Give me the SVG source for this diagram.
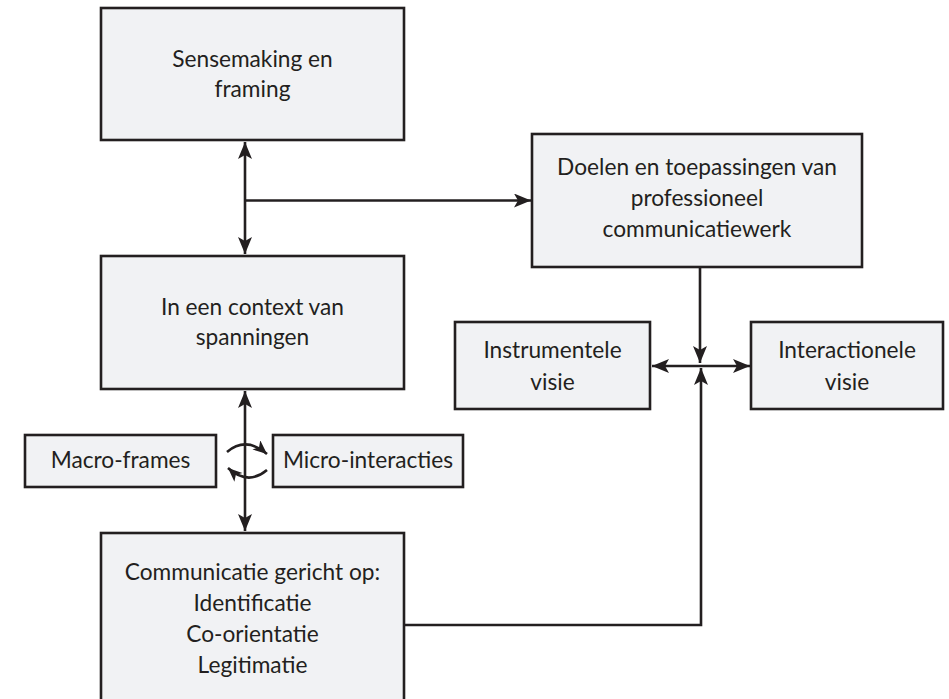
<svg xmlns="http://www.w3.org/2000/svg" width="949" height="699" viewBox="0 0 949 699">
<style>
.box{fill:#f1f2f4;stroke:#231f20;stroke-width:2.6}
.t{font-family:Lato,"Open Sans","Liberation Sans",sans-serif;font-size:22.7px;fill:#231f20;text-anchor:middle}
.c{fill:none;stroke:#231f20;stroke-width:2.6}
</style>
<defs>
<marker id="ah" markerUnits="userSpaceOnUse" markerWidth="20" markerHeight="16" refX="17" refY="7" orient="auto-start-reverse">
<path d="M0,0 L17,7 L0,14 L4,7 Z" fill="#231f20"/>
</marker>
<marker id="ahs" markerUnits="userSpaceOnUse" markerWidth="16" markerHeight="14" refX="14" refY="6" orient="auto">
<path d="M0,0 L14,6 L0,12 L3.5,6 Z" fill="#231f20"/>
</marker>
</defs>
<rect width="949" height="699" fill="#ffffff"/>
<g id="connectors">
<path class="c" d="M245,142 V254" marker-start="url(#ah)" marker-end="url(#ah)"/>
<path class="c" d="M245,200.5 H531" marker-end="url(#ah)"/>
<path class="c" d="M700,267 V363" marker-end="url(#ah)"/>
<path class="c" d="M652,366 H750" marker-start="url(#ah)" marker-end="url(#ah)"/>
<path class="c" d="M404,625 H701 V368" marker-end="url(#ah)"/>
<path class="c" d="M245,391 V531" marker-start="url(#ah)" marker-end="url(#ah)"/>
<path class="c" d="M227,452 Q246,436 267,454" marker-end="url(#ahs)"/>
<path class="c" d="M267,470 Q248,486 228,468" marker-end="url(#ahs)"/>
</g>
<g id="sensemaking">
<rect class="box" x="101" y="8" width="303" height="132"/>
<text class="t" x="252.5" y="67">Sensemaking en</text>
<text class="t" x="252.5" y="97">framing</text>
</g>
<g id="context">
<rect class="box" x="101" y="256" width="303" height="133"/>
<text class="t" x="252.5" y="315">In een context van</text>
<text class="t" x="252.5" y="345">spanningen</text>
</g>
<g id="communicatie">
<rect class="box" x="101" y="533" width="303" height="180"/>
<text class="t" x="252.5" y="580">Communicatie gericht op:</text>
<text class="t" x="252.5" y="611">Identificatie</text>
<text class="t" x="252.5" y="642">Co-orientatie</text>
<text class="t" x="252.5" y="673">Legitimatie</text>
</g>
<g id="macro">
<rect class="box" x="25" y="435" width="191" height="52"/>
<text class="t" x="120.5" y="468">Macro-frames</text>
</g>
<g id="micro">
<rect class="box" x="273" y="435" width="190" height="52"/>
<text class="t" x="368" y="468">Micro-interacties</text>
</g>
<g id="doelen">
<rect class="box" x="532" y="134" width="330" height="133"/>
<text class="t" x="697" y="175">Doelen en toepassingen van</text>
<text class="t" x="697" y="206">professioneel</text>
<text class="t" x="697" y="237">communicatiewerk</text>
</g>
<g id="instrumentele">
<rect class="box" x="455" y="322" width="195" height="87"/>
<text class="t" x="552.5" y="358">Instrumentele</text>
<text class="t" x="552.5" y="390">visie</text>
</g>
<g id="interactionele">
<rect class="box" x="751" y="322" width="192" height="87"/>
<text class="t" x="847" y="358">Interactionele</text>
<text class="t" x="847" y="390">visie</text>
</g>
</svg>
